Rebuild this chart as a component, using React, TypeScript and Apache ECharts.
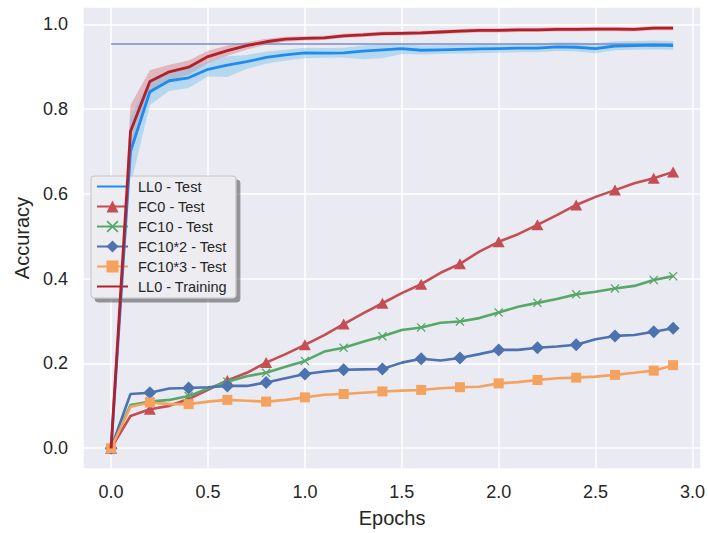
import React, { useEffect, useRef } from 'react';
import * as echarts from 'echarts';

// ---- data ----
const epochs = [0, 0.1, 0.2, 0.3, 0.4, 0.5, 0.6, 0.7, 0.8, 0.9, 1.0, 1.1, 1.2, 1.3, 1.4, 1.5, 1.6, 1.7, 1.8, 1.9, 2.0, 2.1, 2.2, 2.3, 2.4, 2.5, 2.6, 2.7, 2.8, 2.9];

const ll0Test = [0, 0.70, 0.841, 0.867, 0.874, 0.894, 0.904, 0.912, 0.922, 0.928, 0.933, 0.932, 0.933, 0.937, 0.940, 0.943, 0.939, 0.940, 0.941, 0.942, 0.943, 0.944, 0.944, 0.947, 0.946, 0.943, 0.949, 0.950, 0.951, 0.950];
const ll0TestLower = [0, 0.62, 0.81, 0.843, 0.850, 0.877, 0.876, 0.895, 0.907, 0.915, 0.920, 0.921, 0.922, 0.918, 0.920, 0.930, 0.929, 0.930, 0.931, 0.932, 0.933, 0.934, 0.934, 0.937, 0.936, 0.932, 0.939, 0.940, 0.941, 0.940];
const ll0TestUpper = [0, 0.78, 0.870, 0.890, 0.897, 0.912, 0.925, 0.928, 0.936, 0.940, 0.945, 0.944, 0.945, 0.950, 0.953, 0.954, 0.950, 0.951, 0.952, 0.953, 0.954, 0.955, 0.955, 0.958, 0.957, 0.955, 0.960, 0.961, 0.962, 0.961];

const ll0Train = [0, 0.747, 0.865, 0.888, 0.899, 0.924, 0.938, 0.950, 0.959, 0.965, 0.967, 0.968, 0.973, 0.975, 0.978, 0.979, 0.980, 0.982, 0.984, 0.986, 0.986, 0.987, 0.987, 0.988, 0.988, 0.989, 0.989, 0.988, 0.991, 0.991];
const ll0TrainLower = [0, 0.69, 0.835, 0.868, 0.881, 0.908, 0.926, 0.941, 0.952, 0.959, 0.962, 0.963, 0.968, 0.970, 0.973, 0.974, 0.975, 0.977, 0.979, 0.981, 0.981, 0.982, 0.982, 0.983, 0.983, 0.984, 0.984, 0.983, 0.986, 0.986];
const ll0TrainUpper = [0, 0.81, 0.892, 0.905, 0.915, 0.938, 0.950, 0.958, 0.966, 0.971, 0.972, 0.973, 0.978, 0.980, 0.983, 0.984, 0.985, 0.987, 0.989, 0.991, 0.991, 0.992, 0.992, 0.993, 0.993, 0.994, 0.994, 0.993, 0.996, 0.996];

const fc0 = [0, 0.076, 0.092, 0.100, 0.116, 0.138, 0.160, 0.178, 0.202, 0.222, 0.244, 0.267, 0.293, 0.318, 0.342, 0.366, 0.387, 0.414, 0.435, 0.464, 0.487, 0.505, 0.527, 0.550, 0.574, 0.593, 0.609, 0.625, 0.637, 0.652];
const fc10 = [0, 0.102, 0.110, 0.114, 0.123, 0.141, 0.157, 0.170, 0.178, 0.192, 0.206, 0.228, 0.237, 0.251, 0.264, 0.279, 0.285, 0.296, 0.299, 0.307, 0.320, 0.334, 0.343, 0.352, 0.363, 0.369, 0.377, 0.383, 0.397, 0.406];
const fc10x2 = [0, 0.128, 0.131, 0.141, 0.142, 0.144, 0.147, 0.147, 0.155, 0.165, 0.175, 0.181, 0.185, 0.186, 0.187, 0.202, 0.211, 0.207, 0.213, 0.222, 0.232, 0.232, 0.237, 0.240, 0.244, 0.257, 0.265, 0.267, 0.275, 0.283];
const fc10x3 = [0, 0.098, 0.108, 0.104, 0.104, 0.110, 0.114, 0.112, 0.110, 0.114, 0.120, 0.126, 0.128, 0.131, 0.134, 0.136, 0.1375, 0.1415, 0.144, 0.145, 0.153, 0.156, 0.161, 0.165, 0.1665, 0.169, 0.173, 0.178, 0.183, 0.196];

const baselineX = [0, 2.9];
const baselineY = [0.954, 0.954];

const legendNames = ['LL0 - Test', 'FC0 - Test', 'FC10 - Test', 'FC10*2 - Test', 'FC10*3 - Test', 'LL0 - Training'];

const FONT = '"Liberation Sans", Arial, Helvetica, sans-serif';
const TEXT = '#262626';
const X_SYMBOL = 'path://M0,1 L1,0 L5,4 L9,0 L10,1 L6,5 L10,9 L9,10 L5,6 L1,10 L0,9 L4,5 Z';

const pairs = (ys: number[]) => epochs.map((x, i) => [x, ys[i]]);
const isMarker = (i: number) => i % 2 === 0 || i === epochs.length - 1;

function bandSeries(name: string, lo: number[], hi: number[], fill: string) {
  return {
    type: 'custom',
    name,
    silent: true,
    z: 1,
    clip: true,
    data: epochs.map((x, i) => [x, lo[i], hi[i]]),
    encode: { x: 0, y: [1, 2] },
    renderItem: (params: any, api: any) => {
      if (params.dataIndex !== 0) return null;
      const pts: number[][] = [];
      for (let i = 0; i < epochs.length; i++) pts.push(api.coord([epochs[i], hi[i]]));
      for (let i = epochs.length - 1; i >= 0; i--) pts.push(api.coord([epochs[i], lo[i]]));
      return { type: 'polygon', shape: { points: pts }, style: { fill, stroke: 'none' } };
    },
  };
}

function markedLine(name: string, ys: number[], color: string, symbol: string, size: number | number[], z: number) {
  return {
    type: 'line',
    name,
    data: pairs(ys),
    z,
    symbol,
    showAllSymbol: true,
    symbolSize: (_v: any, p: any) => (isMarker(p.dataIndex) ? size : 0),
    lineStyle: { color, width: 2.6 },
    itemStyle: { color },
    emphasis: { disabled: true },
  };
}

function plainLine(name: string, ys: number[], color: string, z: number) {
  return {
    type: 'line',
    name,
    data: pairs(ys),
    z,
    symbol: 'circle',
    showSymbol: false,
    lineStyle: { color, width: 2.8 },
    itemStyle: { color },
    emphasis: { disabled: true },
  };
}

const fmt = (step: number) => (v: number) =>
  Math.abs(v / step - Math.round(v / step)) < 1e-6 ? v.toFixed(1) : '';

export default function App() {
  const ref = useRef<HTMLDivElement>(null);
  useEffect(() => {
    const chart = echarts.init(ref.current!, null, { renderer: 'svg' });
    const option: any = {
      animation: false,
      backgroundColor: '#ffffff',
      textStyle: { fontFamily: FONT },
      grid: { left: 83, right: 4, top: 7, bottom: 64, show: true, backgroundColor: '#EAEAF2', borderWidth: 0 },
      xAxis: {
        type: 'value',
        min: -0.145,
        max: 3.045,
        splitNumber: 6,
        axisLine: { show: false },
        axisTick: { show: false },
        splitLine: { show: true, lineStyle: { color: '#ffffff', width: 1.5 } },
        axisLabel: { color: TEXT, fontSize: 18, fontFamily: FONT, margin: 14, showMinLabel: false, showMaxLabel: false, formatter: fmt(0.5) },
        name: 'Epochs',
        nameLocation: 'middle',
        nameGap: 39,
        nameTextStyle: { color: TEXT, fontSize: 20, fontFamily: FONT },
      },
      yAxis: {
        type: 'value',
        min: -0.049,
        max: 1.041,
        splitNumber: 5,
        axisLine: { show: false },
        axisTick: { show: false },
        splitLine: { show: true, lineStyle: { color: '#ffffff', width: 1.5 } },
        axisLabel: { color: TEXT, fontSize: 18, fontFamily: FONT, margin: 15, showMinLabel: false, showMaxLabel: false, formatter: fmt(0.2) },
        name: 'Accuracy',
        nameLocation: 'middle',
        nameGap: 51,
        nameTextStyle: { color: TEXT, fontSize: 20, fontFamily: FONT },
      },
      legend: {
        orient: 'vertical',
        left: 91,
        top: 176,
        padding: [3, 9, 4, 5],
        itemGap: 5,
        itemWidth: 31,
        itemHeight: 15,
        backgroundColor: '#ECECF1',
        borderColor: '#c4c4c4',
        borderWidth: 1,
        borderRadius: 3,
        shadowColor: 'rgba(60,60,60,0.5)',
        shadowBlur: 0,
        shadowOffsetX: 4,
        shadowOffsetY: 4,
        textStyle: { color: TEXT, fontSize: 14.5, lineHeight: 15, fontFamily: FONT, padding: [0, 0, 0, 5] },
        data: [
          { name: legendNames[0], itemStyle: { opacity: 0 } },
          { name: legendNames[1] },
          { name: legendNames[2] },
          { name: legendNames[3] },
          { name: legendNames[4] },
          { name: legendNames[5], itemStyle: { opacity: 0 } },
        ],
      },
      series: [
        bandSeries('trainBand', ll0TrainLower, ll0TrainUpper, 'rgba(205, 90, 95, 0.35)'),
        bandSeries('testBand', ll0TestLower, ll0TestUpper, 'rgba(120, 195, 235, 0.45)'),
        {
          type: 'line',
          name: 'baseline',
          data: baselineX.map((x, i) => [x, baselineY[i]]),
          z: 2,
          symbol: 'none',
          lineStyle: { color: '#7d8cc0', width: 1.5 },
          emphasis: { disabled: true },
        },
        markedLine(legendNames[1], fc0, '#C44E52', 'triangle', [12, 11], 3),
        markedLine(legendNames[2], fc10, '#55A868', X_SYMBOL, 9, 4),
        markedLine(legendNames[3], fc10x2, '#4C72B0', 'diamond', 13, 5),
        markedLine(legendNames[4], fc10x3, '#F4A25E', 'rect', 10, 6),
        plainLine(legendNames[0], ll0Test, '#1F8BEF', 7),
        plainLine(legendNames[5], ll0Train, '#B2202A', 8),
      ],
    };
    chart.setOption(option);
    return () => chart.dispose();
  }, []);
  return <div ref={ref} style={{ position: 'fixed', left: 0, top: 0, width: 708, height: 533 }} />;
}
